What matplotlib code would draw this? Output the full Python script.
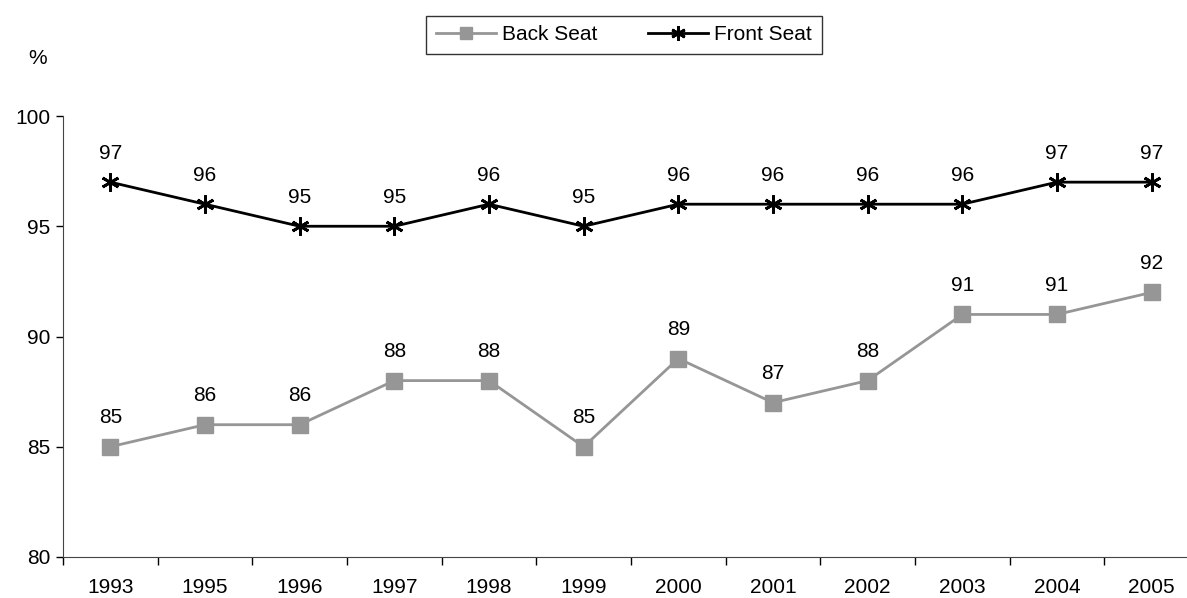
import matplotlib
matplotlib.use('Agg')
from matplotlib import pyplot as plt

plt.rcParams['font.family'] = ['Liberation Sans', 'DejaVu Sans']

years = ['1993', '1995', '1996', '1997', '1998', '1999',
         '2000', '2001', '2002', '2003', '2004', '2005']
back_seat = [85, 86, 86, 88, 88, 85, 89, 87, 88, 91, 91, 92]
front_seat = [97, 96, 95, 95, 96, 95, 96, 96, 96, 96, 97, 97]

fig = plt.figure(figsize=(11.87, 5.98), dpi=100)
ax = fig.add_axes([63 / 1187, 1 - 557 / 598, 1136 / 1187, 441 / 598])

x = list(range(len(years)))
ax.plot(x, back_seat, color='#969696', lw=2, marker='s', ms=11,
        label='Back Seat')
ax.plot(x, front_seat, color='black', lw=2, marker=(6, 2, 0), ms=13,
        mew=2, label='Front Seat')

for i, v in enumerate(back_seat):
    ax.annotate(str(v), (i, v), xytext=(0, 14), textcoords='offset points',
                ha='center', va='bottom', fontsize=15)
for i, v in enumerate(front_seat):
    ax.annotate(str(v), (i, v), xytext=(0, 14), textcoords='offset points',
                ha='center', va='bottom', fontsize=15)

ax.set_xlim(-0.5, len(years) - 0.5)
ax.set_ylim(80, 100)
ax.set_yticks([80, 85, 90, 95, 100])
ax.set_xticks(x)
ax.set_xticklabels(years)
ax.set_xticks([i - 0.5 for i in range(len(years) + 1)], minor=True)
ax.tick_params(axis='x', which='major', length=0, pad=15, labelsize=15)
ax.tick_params(axis='x', which='minor', length=6, width=1)
ax.tick_params(axis='y', length=5, width=1, labelsize=15, pad=4)
ax.spines['top'].set_visible(False)
ax.spines['right'].set_visible(False)
ax.spines['left'].set_color('#444444')
ax.spines['bottom'].set_color('#444444')

fig.text(38 / 1187, 1 - 58 / 598, '%', fontsize=15, ha='center', va='center')

leg = fig.legend(loc='center', bbox_to_anchor=(624 / 1187, 1 - 35 / 598),
                 ncol=2, fontsize=15, frameon=True, fancybox=False,
                 edgecolor='black', handlelength=2.9, handletextpad=0.3,
                 columnspacing=2.4, borderpad=0.45, borderaxespad=0,
                 markerscale=0.8)
leg.get_frame().set_linewidth(1)

plt.savefig('out.png', dpi=100)
